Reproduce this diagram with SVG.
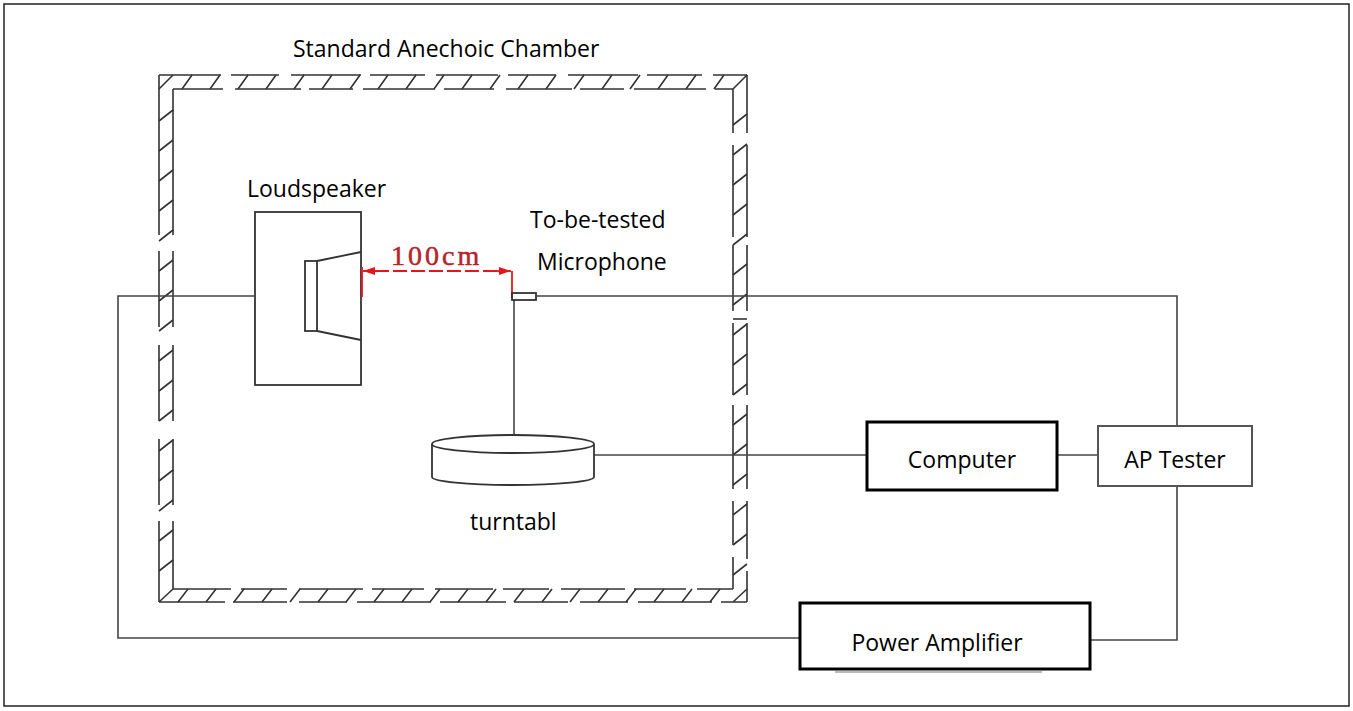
<svg xmlns="http://www.w3.org/2000/svg" width="1353" height="711" viewBox="0 0 1353 711">
<style>
.lbl{font-family:"Open Sans","Liberation Sans",sans-serif;font-size:23px;fill:#000}
.wall{stroke:#333;stroke-width:1.6;fill:none}
.wire{stroke:#444;stroke-width:1.6;fill:none}
.thin{stroke:#333;stroke-width:1.8;fill:none}
.box{fill:#fff;stroke:#000;stroke-width:3}
.gbox{fill:#fff;stroke:#555;stroke-width:2}
.dim{stroke:#e8141b;stroke-width:1.8;fill:none}
</style>
<defs>
<marker id="arr" viewBox="0 0 12 8" refX="12" refY="4" markerWidth="12" markerHeight="8" markerUnits="userSpaceOnUse" orient="auto-start-reverse">
<path d="M0,0 L12,4 L0,8 Z" fill="#e8141b"/>
</marker>
</defs>
<rect x="4" y="4" width="1345" height="702" fill="#fff" stroke="#222" stroke-width="1.5"/>

<g id="chamber">
<path class="wall" d="M182,89 l10,-14 m18,14 l10,-14 m18,14 l10,-14 m18,14 l10,-14 m18,14 l10,-14 m18,14 l10,-14 m18,14 l10,-14 m18,14 l10,-14 m18,14 l10,-14 m18,14 l10,-14 m18,14 l10,-14 m18,14 l10,-14 m18,14 l10,-14 m18,14 l10,-14 m18,14 l10,-14 m18,14 l10,-14 m18,14 l10,-14 m18,14 l10,-14 m18,14 l10,-14 m18,14 l10,-14"/>
<path class="wall" d="M178,602 l10,-13 m18,13 l10,-13 m18,13 l10,-13 m18,13 l10,-13 m18,13 l10,-13 m18,13 l10,-13 m18,13 l10,-13 m18,13 l10,-13 m18,13 l10,-13 m18,13 l10,-13 m18,13 l10,-13 m18,13 l10,-13 m18,13 l10,-13 m18,13 l10,-13 m18,13 l10,-13 m18,13 l10,-13 m18,13 l10,-13 m18,13 l10,-13 m18,13 l10,-13 m18,13 l10,-13"/>
<path class="wall" d="M159,121 l14,-11 m-14,41 l14,-11 m-14,41 l14,-11 m-14,41 l14,-11 m-14,41 l14,-11 m-14,41 l14,-11 m-14,41 l14,-11 m-14,41 l14,-11 m-14,41 l14,-11 m-14,41 l14,-11 m-14,41 l14,-11 m-14,41 l14,-11 m-14,41 l14,-11 m-14,41 l14,-11 m-14,41 l14,-11 m-14,41 l14,-11"/>
<path class="wall" d="M733,125 l14,-11 m-14,41 l14,-11 m-14,41 l14,-11 m-14,41 l14,-11 m-14,41 l14,-11 m-14,41 l14,-11 m-14,41 l14,-11 m-14,41 l14,-11 m-14,41 l14,-11 m-14,41 l14,-11 m-14,41 l14,-11 m-14,41 l14,-11 m-14,41 l14,-11 m-14,41 l14,-11 m-14,41 l14,-11 m-14,41 l14,-11"/>
<path class="wall" d="M733,319 L747,319"/>
<path class="wall" d="M159,75 L747,75" stroke-dasharray="62 10 48 12 70 9 55 11"/>
<path class="wall" d="M173,89 L733,89" stroke-dasharray="50 12 66 8 44 10 72 9"/>
<path class="wall" d="M159,602 L747,602" stroke-dasharray="66 8 54 12 48 10 74 9"/>
<path class="wall" d="M173,589 L733,589" stroke-dasharray="58 10 46 12 64 9 52 11"/>
<path class="wall" d="M159,75 L159,602" stroke-dasharray="160 16 76 18 76 18 66 16 90 14"/>
<path class="wall" d="M173,89 L173,589" stroke-dasharray="146 16 76 18 76 18 66 16 90 14"/>
<path class="wall" d="M747,75 L747,602" stroke-dasharray="58 12 92 8 66 12 72 10 84 12"/>
<path class="wall" d="M733,89 L733,589" stroke-dasharray="44 12 92 8 66 12 72 10 84 12"/>
<path class="wall" d="M159,89 L173,75"/>
<path class="wall" d="M733,89 L747,75"/>
<path class="wall" d="M159,602 L173,589"/>
<path class="wall" d="M733,602 L747,589"/>
</g>
<text class="lbl" x="293" y="57">Standard Anechoic Chamber</text>

<g id="connectors">
<path class="wire" d="M254,296 L118,296 L118,638 L800,638"/>
<path class="wire" d="M536,296 L1177,296 L1177,426"/>
<path class="wire" d="M1177,486 L1177,640 L1090,640"/>
<path class="wire" d="M594,455 L867,455"/>
<path class="wire" d="M1057,455 L1098,455"/>
<path class="wire" d="M514,300 L514,435"/>
</g>

<g id="loudspeaker">
<rect x="255" y="212" width="106" height="173" class="thin" fill="#fff"/>
<rect x="305" y="261" width="12" height="70" class="thin"/>
<path class="thin" d="M317,261 L361,252 M317,331 L361,340"/>
<text class="lbl" x="247" y="197">Loudspeaker</text>
</g>

<g id="dimension">
<path class="dim" d="M362,267 L362,297"/>
<path class="dim" d="M512,271 L512,298"/>
<path class="dim" d="M375,271 L500,271" stroke-dasharray="14 4"/>
<path class="dim" d="M380,271 L363,271" marker-end="url(#arr)"/>
<path class="dim" d="M495,271 L511,271" marker-end="url(#arr)"/>
<text x="391" y="265" font-family="'Liberation Serif',serif" font-size="28" letter-spacing="3" fill="#b8232a" stroke="#b8232a" stroke-width="0.5">100cm</text>
</g>

<g id="microphone">
<rect x="512" y="293" width="24" height="7" class="thin" fill="#fff"/>
<text class="lbl" x="530" y="228">To-be-tested</text>
<text class="lbl" x="537" y="270">Microphone</text>
</g>

<g id="turntable">
<path class="thin" fill="#fff" d="M432,444 L432,477 A81,8 0 0 0 594,477 L594,444"/>
<ellipse cx="513" cy="444" rx="81" ry="9" class="thin" fill="#fff"/>
<text class="lbl" x="470" y="530">turntabl</text>
</g>

<g id="computer">
<rect x="867" y="422" width="190" height="68" class="box"/>
<text class="lbl" x="962" y="468" text-anchor="middle">Computer</text>
</g>

<g id="ap-tester">
<rect x="1098" y="426" width="154" height="60" class="gbox"/>
<text class="lbl" x="1175" y="468" text-anchor="middle">AP Tester</text>
</g>

<g id="power-amplifier">
<path d="M835,672 L1042,672" stroke="#bbb" stroke-width="2"/>
<rect x="800" y="603" width="290" height="66" class="box"/>
<text class="lbl" x="937" y="651" text-anchor="middle">Power Amplifier</text>
</g>
</svg>
